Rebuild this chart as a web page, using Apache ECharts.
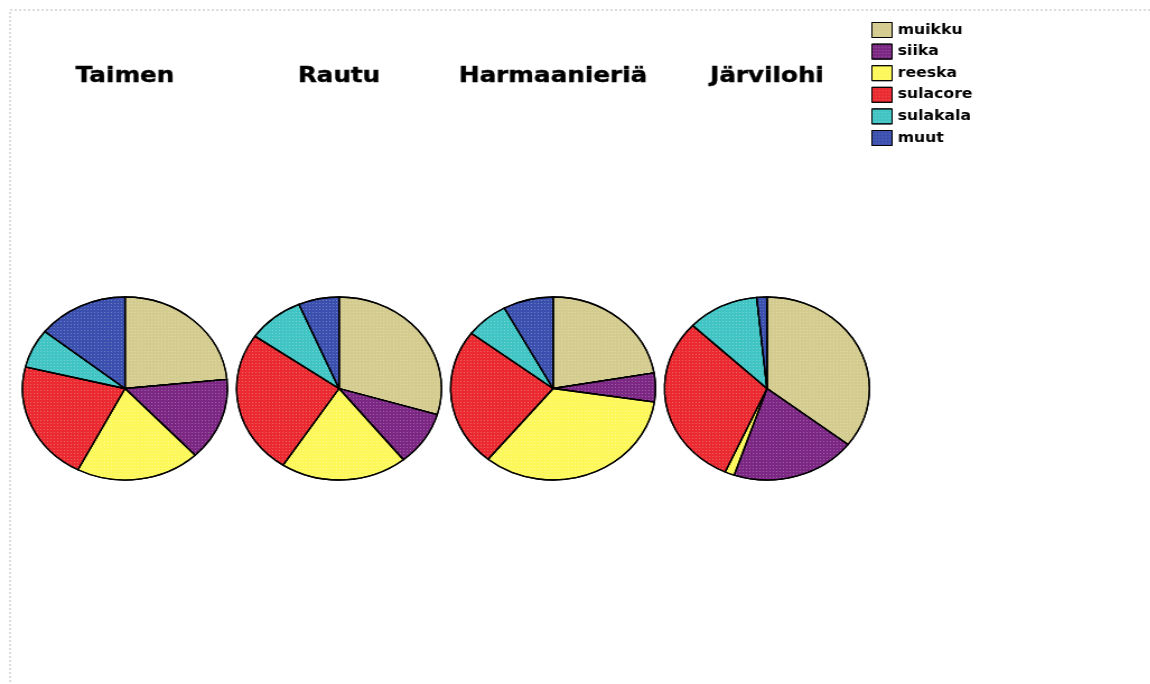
<!DOCTYPE html>
<html>
<head>
<meta charset="utf-8">
<script src="https://cdn.jsdelivr.net/npm/echarts@6/dist/echarts.min.js"></script>
<style>
  html, body { margin: 0; padding: 0; background: #fff; overflow: hidden; }
  /* the chart is laid out narrower and widened horizontally, giving the oval pies */
  #chart { width: 1027px; height: 684px; transform: scaleX(1.12); transform-origin: 0 0; }
</style>
</head>
<body>
<div id="chart"></div>
<script>
// Saaliskalojen ravinto (%)
const categories = ['muikku', 'siika', 'reeska', 'sulacore', 'sulakala', 'muut'];
const fishNames = ['Taimen', 'Rautu', 'Harmaanieriä', 'Järvilohi'];
const taimen = [23.4, 14.6, 19.6, 21.2, 6.9, 14.3];
const rautu = [29.6, 9.6, 20.0, 25.5, 8.9, 6.4];
const harmaanieria = [22.3, 5.1, 33.6, 24.4, 6.8, 7.9];
const jarvilohi = [35.5, 19.7, 1.5, 30.4, 11.3, 1.6];
const seriesValues = [taimen, rautu, harmaanieria, jarvilohi];

const colors = ['#d4cb8e', '#7b2783', '#fdf85a', '#ea2a30', '#40c4c4', '#3a4fae'];
const centersX = [111.6, 302.7, 493.8, 684.8];
const centerY = 388.5;
const radius = 91.5;
const titleFont = { fontFamily: 'DejaVu Sans', fontWeight: 'bold', fontSize: 22, color: '#000',
  textBorderColor: '#000', textBorderWidth: 0.4 };

// fine dotted texture on the slices
const dots = {
  symbol: 'rect', symbolSize: 1, color: 'rgba(255,255,255,0.28)',
  dashArrayX: [1, 2], dashArrayY: [1, 2], rotation: 0
};

const chart = echarts.init(document.getElementById('chart'), null, { renderer: 'canvas' });

chart.setOption({
  animation: false,
  color: colors,
  title: fishNames.map((name, i) => ({
    text: name,
    left: centersX[i],
    top: 65,
    padding: 0,
    textAlign: 'center',
    textStyle: titleFont
  })),
  legend: {
    orient: 'vertical',
    left: 773,
    top: 17,
    data: categories,
    icon: 'rect',
    itemWidth: 18,
    itemHeight: 15,
    itemGap: 5.6,
    selectedMode: false,
    itemStyle: { borderColor: '#000', borderWidth: 1 },
    textStyle: { fontFamily: 'DejaVu Sans', fontWeight: 'bold', fontSize: 14, color: '#000' }
  },
  graphic: [{
    type: 'rect',
    shape: { x: 9, y: 10, width: 1100, height: 800 },
    style: { fill: 'none', stroke: '#b8b8b8', lineWidth: 1, lineDash: [2, 2] },
    silent: true
  }],
  series: seriesValues.map((vals, i) => ({
    type: 'pie',
    name: fishNames[i],
    center: [centersX[i], centerY],
    radius: radius,
    startAngle: 90,
    clockwise: true,
    label: { show: false },
    labelLine: { show: false },
    emphasis: { disabled: true },
    itemStyle: { borderColor: '#000', borderWidth: 1.3, decal: dots },
    data: categories.map((c, j) => ({ name: c, value: vals[j] }))
  }))
});
</script>
</body>
</html>
